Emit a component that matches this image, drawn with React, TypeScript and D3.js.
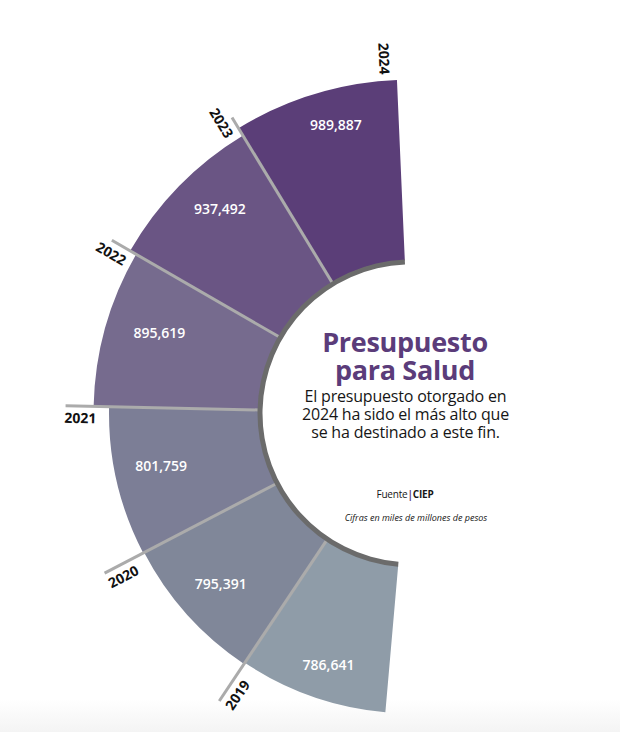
import React from 'react';
import * as d3 from 'd3';

const years = ['2019', '2020', '2021', '2022', '2023', '2024'];
const values = [786641, 795391, 801759, 895619, 937492, 989887];
const colors = ['#8f9ca8', '#808799', '#7c7e96', '#766b8e', '#6a5584', '#5b3e78'];
const titleLines = ['Presupuesto', 'para Salud'];
const subtitleLines = ['El presupuesto otorgado en', '2024 ha sido el más alto que', 'se ha destinado a este fin.'];
const sourceLabel = 'Fuente';
const sourceName = 'CIEP';
const note = 'Cifras en miles de millones de pesos';

const fmt = d3.format(',');

export default function App() {
  const W = 620, H = 732;
  const cx = 411.5, cy = 413.3;
  const rInner = 153;
  const font = "'Open Sans', 'Noto Sans', sans-serif";

  // angle in degrees, counter-clockwise from 12 o'clock
  const angle = d3.scaleLinear().domain([0, years.length]).range([175, 2.5]);
  const radius = d3.scaleLinear().domain(d3.extent(values) as [number, number]).range([300, 333.5]);
  const rad = (d: number) => (d * Math.PI) / 180;
  const pt = (r: number, phi: number): [number, number] => [cx - r * Math.sin(rad(phi)), cy - r * Math.cos(rad(phi))];
  // value labels sit on a slightly off-centre ring
  const labelRadius = (phi: number) => 291.5 - 37 * Math.cos(rad(phi - 118));
  const labelAngle = (phi: number) => phi - 2.5 * Math.cos(rad(phi - 45));

  const arc = d3.arc<any>();

  const segs = values.map((v, i) => {
    const a0 = angle(i), a1 = angle(i + 1);
    const path = arc({ innerRadius: rInner, outerRadius: radius(v), startAngle: -rad(a0), endAngle: -rad(a1) } as any) as string;
    return { v, i, a0, a1, path };
  });

  const innerBand = arc({ innerRadius: 149, outerRadius: 154, startAngle: -rad(angle(0)), endAngle: -rad(angle(years.length)) } as any) as string;

  const dividers = d3.range(1, years.length).map((k) => {
    const phi = angle(k);
    const [x1, y1] = pt(rInner - 1, phi);
    const [x2, y2] = pt(346, phi);
    return { k, x1, y1, x2, y2 };
  });

  return (
    <svg width={W} height={H} style={{ position: 'absolute', left: 0, top: 0 }} fontFamily={font}>
      <defs>
        <linearGradient id="bg" x1="0" y1="0" x2="0" y2="1">
          <stop offset="0" stopColor="#ffffff" />
          <stop offset="0.955" stopColor="#ffffff" />
          <stop offset="1" stopColor="#f4f4f4" />
        </linearGradient>
      </defs>
      <rect x={0} y={0} width={W} height={H} fill="url(#bg)" />
      <g transform={`translate(${cx},${cy})`}>
        {segs.map((s) => (
          <path key={s.i} d={s.path} fill={colors[s.i]} />
        ))}
      </g>
      {dividers.map((d) => (
        <line key={d.k} x1={d.x1} y1={d.y1} x2={d.x2} y2={d.y2} stroke="#ababab" strokeWidth={3} />
      ))}
      <g transform={`translate(${cx},${cy})`}>
        <path d={innerBand} fill="#6b6b6b" />
      </g>
      {segs.map((s) => {
        const mid = (s.a0 + s.a1) / 2;
        const [x, y] = pt(labelRadius(mid), labelAngle(mid));
        return (
          <text key={'v' + s.i} x={x} y={y} fill="#ffffff" fontSize={14} fontWeight={600}
            textAnchor="middle" dominantBaseline="central">{fmt(s.v)}</text>
        );
      })}
      {segs.map((s) => {
        const phi = s.a1;
        const rm = Math.max(314, radius(s.v) + 5) + 17;
        const [px, py] = pt(rm, phi);
        const off = 11.5;
        const x = px - off * Math.cos(rad(phi));
        const y = py + off * Math.sin(rad(phi));
        return (
          <text key={'y' + s.i} transform={`translate(${x},${y}) rotate(${90 - phi})`} fill="#111"
            fontSize={14} fontWeight={700} textAnchor="middle" dominantBaseline="central">{years[s.i]}</text>
        );
      })}
      {titleLines.map((t, i) => (
        <text key={'t' + i} x={405} y={352 + i * 28} fill="#5b3c7a" fontSize={27} fontWeight={700}
          textAnchor="middle" letterSpacing={-0.3}>{t}</text>
      ))}
      {subtitleLines.map((t, i) => (
        <text key={'s' + i} x={405.5} y={401.5 + i * 18.4} fill="#161616" fontSize={16}
          textAnchor="middle" letterSpacing={-0.2}>{t}</text>
      ))}
      <text x={405} y={498} fontSize={10} fill="#161616" textAnchor="middle" letterSpacing={-0.2}>
        <tspan>{sourceLabel}</tspan>
        <tspan fill="#5b3c7a" fontWeight={700}>|</tspan>
        <tspan fontWeight={700}>{sourceName}</tspan>
      </text>
      <text x={416} y={521} fontSize={9} fontStyle="italic" fill="#161616" textAnchor="middle">{note}</text>
    </svg>
  );
}
